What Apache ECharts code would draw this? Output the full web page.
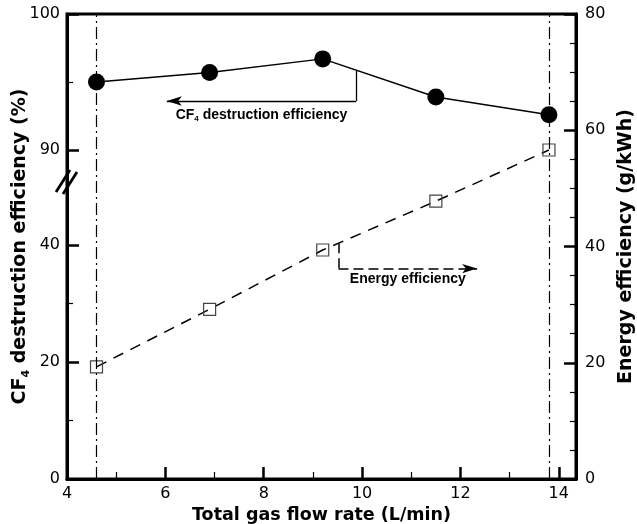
<!DOCTYPE html>
<html>
<head>
<meta charset="utf-8">
<script src="https://cdn.jsdelivr.net/npm/echarts@6/dist/echarts.min.js"></script>
<style>
  html, body { margin: 0; padding: 0; background: #fff; }
  #graph { width: 637px; height: 524px; }
</style>
</head>
<body>
<div id="graph"></div>
<script>
// values
var flowRate = [4.6, 6.9, 9.2, 11.5, 13.8];          // L/min
var cf4Destruction = [95.0, 95.7, 96.7, 93.9, 92.6];  // %
var energyEff = [19.3, 29.2, 39.4, 47.8, 56.6];       // g/kWh

// tick settings
var xRange = [4, 14.35];
var upperRange = [90, 100];   // left axis above the break
var lowerRange = [0, 40];     // left axis below the break
var rightRange = [0, 80];

// call-out arrows (data units)
var cfNote = { x: 9.88, y: 93.6, arrowX: 6.03 };
var energyNote = { x: 9.52, y: 36.2, arrowX: 12.34 };

function interp(xs, ys, x) {
    for (var i = 0; i < xs.length - 1; i++) {
        if (x >= xs[i] && x <= xs[i + 1]) {
            return ys[i] + (ys[i + 1] - ys[i]) * (x - xs[i]) / (xs[i + 1] - xs[i]);
        }
    }
    return ys[ys.length - 1];
}

var tickFont = 'DejaVu Sans';
var boldFont = 'Liberation Sans';

function pairs(xs, ys) {
    return xs.map(function(x, i) { return [x, ys[i]]; });
}

var gridL = 67, gridR = 61, gridTop = 14, gridBottom = 45;

var tickLabel = { fontFamily: tickFont, fontSize: 16, color: '#000' };

var chart = echarts.init(document.getElementById('graph'));

var option = {
    animation: false,
    grid: [
        { left: gridL, right: gridR, top: gridTop, bottom: gridBottom, outerBoundsMode: 'none',
          show: true, borderColor: '#000', borderWidth: 3, backgroundColor: 'transparent' },
        { left: gridL, right: gridR, top: gridTop, height: 136, outerBoundsMode: 'none' },
        { left: gridL, right: gridR, top: 245, bottom: gridBottom, outerBoundsMode: 'none' }
    ],
    xAxis: [
        {
            gridIndex: 0, type: 'value', min: xRange[0], max: xRange[1], interval: 2,
            name: 'Total gas flow rate (L/min)', nameLocation: 'middle', nameGap: 18,
            nameTextStyle: { fontFamily: tickFont, fontWeight: 'bold', fontSize: 17.5, color: '#000' },
            axisLine: { lineStyle: { color: '#000', width: 3 } },
            axisTick: { inside: true, length: 12, lineStyle: { width: 2.5, color: '#000' } },
            minorTick: { show: true, splitNumber: 2, length: 7, lineStyle: { width: 1.2, color: '#000' } },
            axisLabel: Object.assign({ margin: 7, formatter: function(v) {
                return (v % 2 === 0) ? String(v) : '';
            } }, tickLabel),
            splitLine: { show: false }
        },
        { gridIndex: 1, type: 'value', min: xRange[0], max: xRange[1], show: false },
        { gridIndex: 2, type: 'value', min: xRange[0], max: xRange[1], show: false }
    ],
    yAxis: [
        {
            // full-height left spine carrying the title
            gridIndex: 0, type: 'value', position: 'left', min: rightRange[0], max: rightRange[1],
            name: '{a|CF}{s|4}{a| destruction efficiency (%)}', nameLocation: 'middle', nameGap: 35, nameRotate: 90,
            nameTextStyle: {
                rich: {
                    a: { fontFamily: tickFont, fontWeight: 'bold', fontSize: 19, color: '#000', lineHeight: 24 },
                    s: { fontFamily: tickFont, fontWeight: 'bold', fontSize: 11, color: '#000', lineHeight: 10, verticalAlign: 'bottom' }
                }
            },
            axisLine: { show: true, lineStyle: { color: '#000', width: 3 } },
            axisTick: { show: false }, axisLabel: { show: false }, splitLine: { show: false }
        },
        {
            gridIndex: 0, type: 'value', position: 'right', min: rightRange[0], max: rightRange[1], interval: 20,
            name: 'Energy efficiency (g/kWh)', nameLocation: 'middle', nameGap: 41, nameRotate: 90,
            nameTextStyle: { fontFamily: tickFont, fontWeight: 'bold', fontSize: 19, color: '#000' },
            axisLine: { show: true, lineStyle: { color: '#000', width: 3 } },
            axisTick: { inside: true, length: 12, lineStyle: { width: 2.5, color: '#000' } },
            minorTick: { show: true, splitNumber: 4, length: 6, lineStyle: { width: 1.2, color: '#000' } },
            axisLabel: Object.assign({ margin: 9 }, tickLabel),
            splitLine: { show: false }
        },
        {
            gridIndex: 1, type: 'value', position: 'left', min: upperRange[0], max: upperRange[1], interval: 10,
            axisLine: { show: false },
            axisTick: { show: true, inside: true, length: 12, lineStyle: { width: 2.5, color: '#000' } },
            minorTick: { show: true, splitNumber: 2, length: 6, lineStyle: { width: 1.2, color: '#000' } },
            axisLabel: Object.assign({ margin: 7 }, tickLabel),
            splitLine: { show: false }
        },
        {
            gridIndex: 2, type: 'value', position: 'left', min: lowerRange[0], max: lowerRange[1], interval: 20,
            axisLine: { show: false },
            axisTick: { show: true, inside: true, length: 12, lineStyle: { width: 2.5, color: '#000' } },
            minorTick: { show: true, splitNumber: 2, length: 6, lineStyle: { width: 1.2, color: '#000' } },
            axisLabel: Object.assign({ margin: 7 }, tickLabel),
            splitLine: { show: false }
        }
    ],
    series: [
        {
            name: 'Energy efficiency', type: 'line', xAxisIndex: 0, yAxisIndex: 1,
            data: pairs(flowRate, energyEff),
            symbol: 'rect', symbolSize: 12,
            itemStyle: { color: 'rgba(0,0,0,0)', borderColor: '#444', borderWidth: 1.2 },
            lineStyle: { color: '#000', width: 1.5, type: [11, 8] },
            z: 3,
            markLine: {
                silent: true, symbol: 'none', animation: false,
                label: { show: false },
                data: [
                    { xAxis: flowRate[0], lineStyle: { color: '#000', width: 1.2, type: [12, 4, 2, 4] } },
                    { xAxis: flowRate[flowRate.length - 1], lineStyle: { color: '#000', width: 1.2, type: [12, 4, 2, 4] } },
                    [
                        { coord: [energyNote.x, interp(flowRate, energyEff, energyNote.x)],
                          lineStyle: { color: '#000', width: 1.5, type: [10, 5] } },
                        { coord: [energyNote.x, energyNote.y] }
                    ],
                    [
                        { coord: [energyNote.x, energyNote.y],
                          lineStyle: { color: '#000', width: 1.5, type: [10, 5] } },
                        { coord: [energyNote.arrowX, energyNote.y], symbol: 'arrow', symbolSize: [7, 15] }
                    ]
                ]
            }
        },
        {
            name: 'CF4 destruction efficiency', type: 'line', xAxisIndex: 1, yAxisIndex: 2,
            data: pairs(flowRate, cf4Destruction),
            symbol: 'circle', symbolSize: 17, clip: false,
            itemStyle: { color: '#000' },
            lineStyle: { color: '#000', width: 1.5 },
            z: 4,
            markLine: {
                silent: true, symbol: 'none', animation: false,
                label: { show: false },
                lineStyle: { color: '#000', width: 1.3, type: 'solid' },
                data: [
                    [
                        { coord: [cfNote.x, interp(flowRate, cf4Destruction, cfNote.x)] },
                        { coord: [cfNote.x, cfNote.y] }
                    ],
                    [
                        { coord: [cfNote.x, cfNote.y] },
                        { coord: [cfNote.arrowX, cfNote.y], symbol: 'arrow', symbolSize: [7, 15] }
                    ]
                ]
            }
        }
    ]
};

chart.setOption(option);

// call-out texts and the axis break mark, placed through the chart's own scales
var cfPt = chart.convertToPixel({ gridIndex: 1 }, [(cfNote.x + cfNote.arrowX) / 2, cfNote.y]);
var enPt = chart.convertToPixel({ gridIndex: 0 }, [(energyNote.x + energyNote.arrowX) / 2, energyNote.y]);
var brk = chart.convertToPixel({ gridIndex: 1 }, [xRange[0], upperRange[0]]);
var brkY = brk[1] + 32;
var ax = brk[0];

chart.setOption({
    graphic: [
        {
            type: 'text', z: 10,
            style: {
                x: cfPt[0], y: cfPt[1] + 6, align: 'center', verticalAlign: 'top',
                text: '{b|CF}{s|4}{b| destruction efficiency}',
                rich: {
                    b: { fontFamily: boldFont, fontWeight: 'bold', fontSize: 14, fill: '#000', lineHeight: 16 },
                    s: { fontFamily: boldFont, fontWeight: 'bold', fontSize: 8, fill: '#000', lineHeight: 8, verticalAlign: 'bottom' }
                }
            }
        },
        {
            type: 'text', z: 10,
            style: {
                x: enPt[0], y: enPt[1] + 4, align: 'center', verticalAlign: 'top',
                text: 'Energy efficiency',
                font: 'bold 14px "Liberation Sans"', fill: '#000'
            }
        },
        {
            type: 'line', z: 10,
            shape: { x1: ax - 11, y1: brkY + 10, x2: ax + 3, y2: brkY - 12 },
            style: { stroke: '#000', lineWidth: 2.8 }
        },
        {
            type: 'line', z: 10,
            shape: { x1: ax - 4, y1: brkY + 12, x2: ax + 10, y2: brkY - 10 },
            style: { stroke: '#000', lineWidth: 2.8 }
        }
    ]
});
</script>
</body>
</html>
